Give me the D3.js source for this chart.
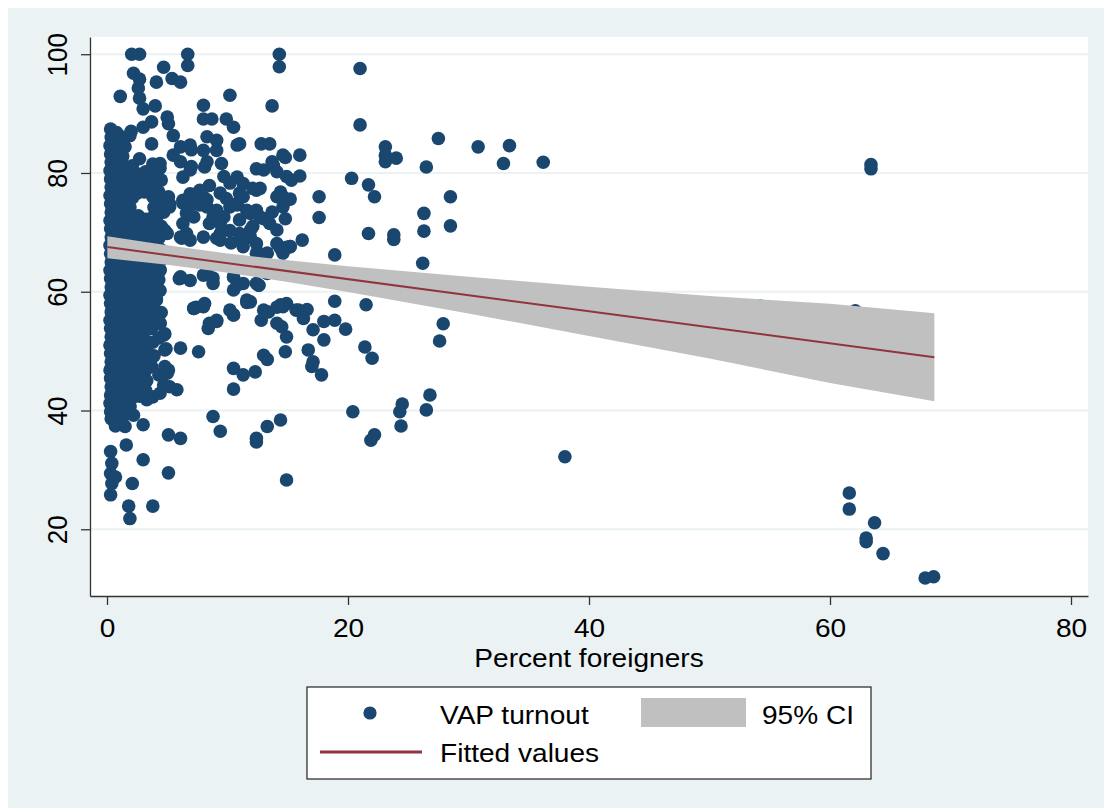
<!DOCTYPE html>
<html>
<head>
<meta charset="utf-8">
<script src="https://cdn.jsdelivr.net/npm/d3@7"></script>
<style>
  html, body { margin: 0; padding: 0; background: #ffffff; }
  svg { display: block; }
  text { font-family: "Liberation Sans", Arial, Helvetica, sans-serif; fill: #000; }
</style>
</head>
<body>
<svg id="chart" width="1104" height="808"></svg>
<script>
// ---------------- data ----------------
// x = percent foreigners, y = VAP turnout
// dense cluster of municipalities with few foreigners
const clusterPoints = [
[0.3,87.4],[0.35,86],[0.25,84.6],[0.3,83.2],[0.35,81.8],[0.25,80.4],[0.3,79],[0.35,77.6],[0.25,76.2],[0.3,74.8],[0.35,73.4],[0.25,72],[0.3,70.6],[0.35,69.2],[0.25,67.8],[0.3,66.4],[0.35,65],[0.25,63.6],[0.3,62.2],[0.35,60.8],[0.25,59.4],[0.3,58],[0.35,56.6],[0.25,55.2],[0.3,53.8],[0.35,52.4],[0.25,51],[0.3,49.6],[0.35,48.2],[0.25,46.8],[0.3,45.4],[0.35,44],[0.3,42.6],[0.25,41.2],[0.3,39.8],[0.35,38.6],
[0.8,86.8],[0.7,85.2],[0.9,83.6],[0.8,82],[0.7,80.4],[0.9,78.8],[0.8,77.2],[0.7,75.6],[0.9,74],[0.8,72.4],[0.7,70.8],[0.9,69.2],[0.8,67.6],[0.7,66],[0.9,64.4],[0.8,62.8],[0.7,61.2],[0.9,59.6],[0.8,58],[0.7,56.4],[0.9,54.8],[0.8,53.2],[0.7,51.6],[0.9,50],[0.8,48.4],[0.7,46.8],[0.9,45.2],[0.8,43.6],[0.7,42],[0.9,40.4],[0.8,38.8],[0.7,37.4],
[1.4,86],[1.5,84.4],[1.3,82.8],[1.4,81.2],[1.5,79.6],[1.3,78],[1.4,76.4],[1.5,74.8],[1.3,73.2],[1.4,71.6],[1.5,70],[1.3,68.4],[1.4,66.8],[1.5,65.2],[1.3,63.6],[1.4,62],[1.5,60.4],[1.3,58.8],[1.4,57.2],[1.5,55.6],[1.3,54],[1.4,52.4],[1.5,50.8],[1.3,49.2],[1.4,47.6],[1.5,46],[1.3,44.4],[1.4,42.8],[1.5,41.2],[1.3,39.6],
[2.0,87],[2.1,81.2],[1.9,79.4],[2.0,77.6],[2.1,75.8],[1.9,74.2],[2.0,72.6],[2.1,71],[1.9,69.4],[2.0,67.8],[2.1,66.2],[1.9,64.6],[2.0,63],[2.1,61.4],[1.9,59.8],[2.0,58.2],[2.1,56.6],[1.9,55],[2.0,53.4],[2.1,51.8],[1.9,50.2],[2.0,48.6],[2.1,47],[1.9,45.4],[2.0,43.8],[2.1,42.2],[1.9,40.8],
[2.6,79.8],[2.7,78.2],[2.5,76.6],[2.6,72.8],[2.7,71.2],[2.5,69.6],[2.6,68],[2.7,66.4],[2.5,64.8],[2.6,63.2],[2.7,61.6],[2.5,60],[2.6,58.4],[2.7,56.8],[2.5,55.2],[2.6,53.6],[2.7,52],[2.5,50.4],[2.6,48.8],[2.7,47.2],[2.5,45.6],[2.6,44],[2.7,42.4],
[3.2,80.2],[3.3,78.5],[3.1,76.8],[3.2,72.2],[3.3,70.5],[3.1,68.8],[3.2,67.1],[3.3,65.4],[3.1,63.7],[3.2,62],[3.3,60.3],[3.1,58.6],[3.2,56.9],[3.3,55.2],[3.1,53.5],[3.2,51.8],[3.3,50.1],[3.1,48.4],[3.2,46.7],[3.3,45],[3.2,43.4],
[3.8,81.5],[3.9,79.6],[3.7,77.8],[3.8,76],[3.9,74.2],[3.7,72.4],[3.8,70.6],[3.9,68.8],[3.7,67],[3.8,65.2],[3.9,63.4],[3.7,61.6],[3.8,59.8],[3.9,57.2],[3.7,53.8],[3.8,51.5],[3.9,49.2],[3.7,47.4],
[4.4,80.8],[4.5,78.8],[4.3,76.8],[4.4,75],[4.5,71],[4.3,69],[4.4,67.2],[4.5,65.4],[4.3,62],[4.4,60.2],[4.5,56.5],[4.3,52.2]
];

// scattered municipalities, upper part (x < 16)
const upperPoints = [
[2.05,100],[2.7,100],[6.7,100],[6.7,98.1],[14.3,100],[14.3,97.9],[4.7,97.8],[2.2,96.8],[2.7,95.8],[5.4,95.9],[6.1,95.3],[4.1,95.3],
[1.1,92.9],[10.2,93.1],[2.6,94.3],[2.7,92.6],[4,91.3],[13.7,91.3],[8,91.4],[3,90.8],[5,89.4],[5.1,88.3],[8,89.1],[8.7,89.1],
[9.9,89.1],[10.5,87.7],[1.9,86.3],[3,87.7],[3.7,88.6],[5.5,86.3],[6.1,84.4],[6.9,84.7],[7,83.9],[8.3,86.1],[9.1,85.5],[8,83.8],
[9.1,83.8],[10.8,84.7],[11,84.9],[12.8,84.9],[13.5,84.9],[14.6,83],[3.7,84.9],[2.7,82.4],[4.4,81.6],[4.1,80.5],[5.5,83],
[6.1,81.9],[7,81.1],[8.3,81.9],[8.1,81],[9.5,81.6],[12.4,80.7],[13.7,81.9],[13,80.5],[13.8,81.3],[14.1,80.2],[14.9,79.4],
[6.9,80.5],[6.3,79.3],[10.8,79.3],[10.2,78.3],[11.3,78.2],[8.5,77.9],[7.7,77.1],[9.7,79.4],[12.1,77.4],[12.7,77.4],[11,76.6],
[14.4,76.8],[14.9,75.4],[5.2,74.8],[6.3,75.4],[6.9,76.5],[7.2,74.8],[8,76],[8.3,74.3],[9.1,73.7],[9.7,72.6],[10.2,74.3],
[10.8,74.6],[11.6,73.7],[12.4,73.7],[12.1,71],[13,72.3],[13.7,73.4],[14.6,74.3],[14.8,72.3],[14.1,70.4],[8.5,71.5],[9.4,69.8],
[10.2,70.3],[11,68.7],[9.4,68.7],[6.3,71.5],[6.6,69.8],[8,69.2],[6.9,68.7],[6.1,69.2],[4.7,73.4],[4.1,72.3],[4.8,70.3],[4.4,74.3],
[11.9,69.2],[12.4,68.1],[14.1,68.1],[14.9,67.5],[12.6,66.5],[13.3,66.5],[13.3,63.1],[12.6,61.1],[4.4,63.6],[6.1,62.5],[6,62.2],
[6.9,61.9],[8.3,63],[8.8,61.4],[10.5,62.5],[10.8,61.1],[12.4,61.4],[7.4,57.4],[8.1,58],[10.2,56.9],[11.9,58.3],[14.1,57.4],[14.9,58]
];

// extra municipalities around x 4 - 16, turnout 54 - 77
const midClusterPoints = [
[4.1,76.6],[5.1,76],[5.2,74.3],[6.3,74.9],[7.2,75.5],[7.7,74.6],[8.3,75.5],[9.4,76.6],[9.9,75.7],[10.8,74.9],[11.3,76],[12.4,77.1],
[14.1,76],[14.9,75.5],[4.1,71.5],[5,69.8],[6.6,73.2],[7.2,72.6],[8.8,72.6],[9.4,71.5],[11,72.1],[11.9,73.2],[12.7,72.6],[13.5,71.5],
[11.9,70.4],[11,69.8],[6.2,69],[9.1,69],[9.5,70.1],[10.3,68.2],[11.3,67.6],[12.4,66.5],[14.4,67.3],[15.2,67.6],
[4.4,63.7],[6.1,62.3],[8,62.8],[8.8,62.3],[10.5,62.5],[11.3,61.4],[10.5,60.3],[12.6,61.1],
[7.2,57.2],[8,57.5],[11.6,58.6],[10.5,56.1],[9.1,55.2],[8.5,54.7],[13,56.9],[14.4,57.8],[15.7,56.9],[14.1,54.7],[4.1,58.6],[3.8,56.4],[4.4,54.7]
];

// scattered municipalities, middle range (x 14 - 40)
const middlePoints = [
[21,97.6],[21,88.1],[14.8,82.6],[16,83],[27.5,85.8],[23.1,84.4],[23.1,83],[23.1,81.9],[24,82.5],[30.8,84.4],[33.4,84.6],
[32.9,81.6],[36.2,81.8],[26.5,81],[20.3,79.1],[15.3,78.8],[16,79.5],[21.7,78],[22.2,76],[14.6,76],[15.2,75.6],[17.6,76],
[17.6,72.5],[28.5,76],[28.5,71.1],[26.3,73.2],[26.3,70.2],[21.7,69.8],[23.8,69.6],[23.8,68.8],[16.2,68.7],[15.2,67.6],
[14.6,66.5],[18.9,66.2],[26.2,64.8],[14.6,57.5],[15.9,56.9],[16.6,57],[16.3,55.5],[18.9,58.4],[21.5,57.8],[14.5,54.1],
[14.9,52.4],[14.8,49.9],[17.1,53.6],[18,55],[18.9,55.2],[19.8,53.7],[18,51.9],[16.7,50.2],[17.1,48.2],[17,47.4],[17.8,46],
[21.4,50.7],[22,48.8],[27.9,54.6],[27.6,51.7],[20.4,39.8],[24.5,41.1],[24.3,39.8],[24.4,37.4],[26.8,42.6],[26.5,40.1],
[22.2,35.9],[21.9,35],[14.4,38.4],[38,32.2],[14.9,28.3]
];

// scattered municipalities, lower part (x < 15)
const lowerPoints = [
[7.2,57.2],[8,57.6],[11.6,58.2],[10.5,56.1],[8.4,53.8],[9.1,55],[12.8,55.2],[13.4,56.6],[13,49.3],[13.3,48.6],[6.1,50.5],
[7.6,49.9],[10.5,47.1],[11.3,46],[12.3,46.5],[10.5,43.6],[5.8,43.5],[4.8,50.2],[4.8,47.4],[5,46.3],[4.7,52.7],[4.8,52.9],
[4.9,50.4],[5.1,46.8],[4.1,58.8],[4.1,55.2],[4.4,54.7],[3.8,42.3],[3.3,41.8],[4.4,42.9],[3,44.6],[3,37.6],[8.8,39],[9.4,36.5],
[5.1,35.9],[6.1,35.3],[12.4,35.3],[12.4,34.7],[13.3,37.3],[1.6,34.2],[0.3,33.1],[0.4,31.1],[0.3,29.4],[0.4,27.7],[0.3,25.8],
[0.7,28.8],[3,31.7],[5.1,29.5],[2.1,27.7],[1.8,23.9],[1.9,21.8],[3.8,23.9],[1.5,37.3],[0.5,38.4],[1.35,39],[2.2,39.2],
[1.9,40.6],[5.2,44],[3.6,47.7],[4.3,46],[4.7,44.3]
];

// municipalities with many foreigners
const outlierPoints = [
[63.4,81.4],[63.4,80.7],[54.2,57.6],[62.1,56.8],[61.6,26.1],[61.6,23.4],[63.7,21.1],[63,18.5],[63,17.9],[64.4,15.9],[67.9,11.8],[68.6,12]
];

// linear fit and 95% confidence band
const fitX = [0.03, 68.66];
const fitY = [67.52, 48.96];
const ciX = [0.03, 5, 10, 15, 20, 30, 40, 50, 60, 68.66];
const ciUpper = [69.36, 67.83, 66.46, 65.30, 64.29, 62.51, 60.86, 59.27, 57.98, 56.36];
const ciLower = [65.66, 64.54, 63.20, 61.64, 59.95, 56.33, 52.56, 48.75, 44.64, 41.56];

const xTicks = [0, 20, 40, 60, 80];
const yTicks = [20, 40, 60, 80, 100];
const xTitle = "Percent foreigners";
const legendLabels = ["VAP turnout", "95% CI", "Fitted values"];

// ---------------- drawing ----------------
const COL_BG = "#EAF2F3", COL_MARK = "#1A476F", COL_BAND = "#C0C0C0", COL_FIT = "#90353B";
const FS = 26, SX = 1.08;
const FONT = '"Liberation Sans", Arial, Helvetica, sans-serif';
const L = 90, R = 1088, T = 37, B = 596;

const svg = d3.select("#chart");
svg.append("rect").attr("x", 8).attr("y", 8).attr("width", 1096).attr("height", 800).attr("fill", COL_BG);
svg.append("rect").attr("x", L).attr("y", T).attr("width", R - L).attr("height", B - T).attr("fill", "#fff");

const x = d3.scaleLinear().domain([-1.411, 81.41]).range([L, R]);
const y = d3.scaleLinear().domain([8.76, 102.9]).range([B, T]);

// gridlines
svg.append("g").selectAll("line").data(yTicks).join("line")
  .attr("x1", L).attr("x2", R)
  .attr("y1", d => y(d)).attr("y2", d => y(d))
  .attr("stroke", COL_BG).attr("stroke-width", 2);

// scatter
const allPoints = clusterPoints.concat(upperPoints, midClusterPoints, middlePoints, lowerPoints, outlierPoints);
svg.append("g").selectAll("circle").data(allPoints).join("circle")
  .attr("cx", d => x(d[0])).attr("cy", d => y(d[1])).attr("r", 6.8)
  .attr("fill", COL_MARK);

// CI band
const bandData = ciX.map((v, i) => ({ x: v, lo: ciLower[i], hi: ciUpper[i] }));
svg.append("path").datum(bandData)
  .attr("d", d3.area().x(d => x(d.x)).y0(d => y(d.lo)).y1(d => y(d.hi)))
  .attr("fill", COL_BAND);

// fitted line
const fitData = fitX.map((v, i) => ({ x: v, y: fitY[i] }));
svg.append("path").datum(fitData)
  .attr("d", d3.line().x(d => x(d.x)).y(d => y(d.y)))
  .attr("fill", "none").attr("stroke", COL_FIT).attr("stroke-width", 2);

// axes
const axB = svg.append("g").attr("transform", `translate(0,${B})`)
  .call(d3.axisBottom(x).tickValues(xTicks).tickSize(9).tickSizeOuter(0).tickFormat(d3.format("d")));
axB.select(".domain").attr("stroke", "#333").attr("stroke-width", 1.3);
axB.selectAll(".tick line").attr("stroke", "#333").attr("stroke-width", 1.3);
axB.selectAll(".tick text").attr("x", 0).attr("y", 0).attr("dy", 0)
  .attr("transform", `translate(0,41) scale(${SX},1)`)
  .attr("text-anchor", "middle")
  .style("font-size", FS + "px").style("font-family", FONT).attr("fill", "#000");

const axL = svg.append("g").attr("transform", `translate(${L},0)`)
  .call(d3.axisLeft(y).tickValues(yTicks).tickSize(9).tickSizeOuter(0).tickFormat(d3.format("d")));
axL.select(".domain").attr("stroke", "#333").attr("stroke-width", 1.3);
axL.selectAll(".tick line").attr("stroke", "#333").attr("stroke-width", 1.3);
axL.selectAll(".tick text")
  .attr("x", 0).attr("y", 0).attr("dy", 0)
  .attr("transform", `translate(-23,0) scale(${SX},1) rotate(-90)`)
  .attr("text-anchor", "middle")
  .style("font-size", FS + "px").style("font-family", FONT).attr("fill", "#000");

// horizontal text helper (stretched like the reference)
function label(g, tx, ty, str, anchor) {
  return g.append("text")
    .attr("transform", `translate(${tx},${ty}) scale(${SX},1)`)
    .attr("text-anchor", anchor || "start")
    .style("font-size", FS + "px").style("font-family", FONT)
    .text(str);
}

// axis title
label(svg, (L + R) / 2, 667, xTitle, "middle");

// legend
const lg = svg.append("g");
lg.append("rect").attr("x", 307).attr("y", 687).attr("width", 564).attr("height", 92)
  .attr("fill", "#fff").attr("stroke", "#222").attr("stroke-width", 1.2);
lg.append("circle").attr("cx", 370).attr("cy", 713).attr("r", 6.6).attr("fill", COL_MARK);
label(lg, 440, 724, legendLabels[0]);
lg.append("rect").attr("x", 641).attr("y", 698).attr("width", 105).attr("height", 29).attr("fill", COL_BAND);
label(lg, 762, 724, legendLabels[1]);
lg.append("line").attr("x1", 320).attr("x2", 422).attr("y1", 752).attr("y2", 752)
  .attr("stroke", COL_FIT).attr("stroke-width", 3);
label(lg, 440, 762, legendLabels[2]);
</script>
</body>
</html>
